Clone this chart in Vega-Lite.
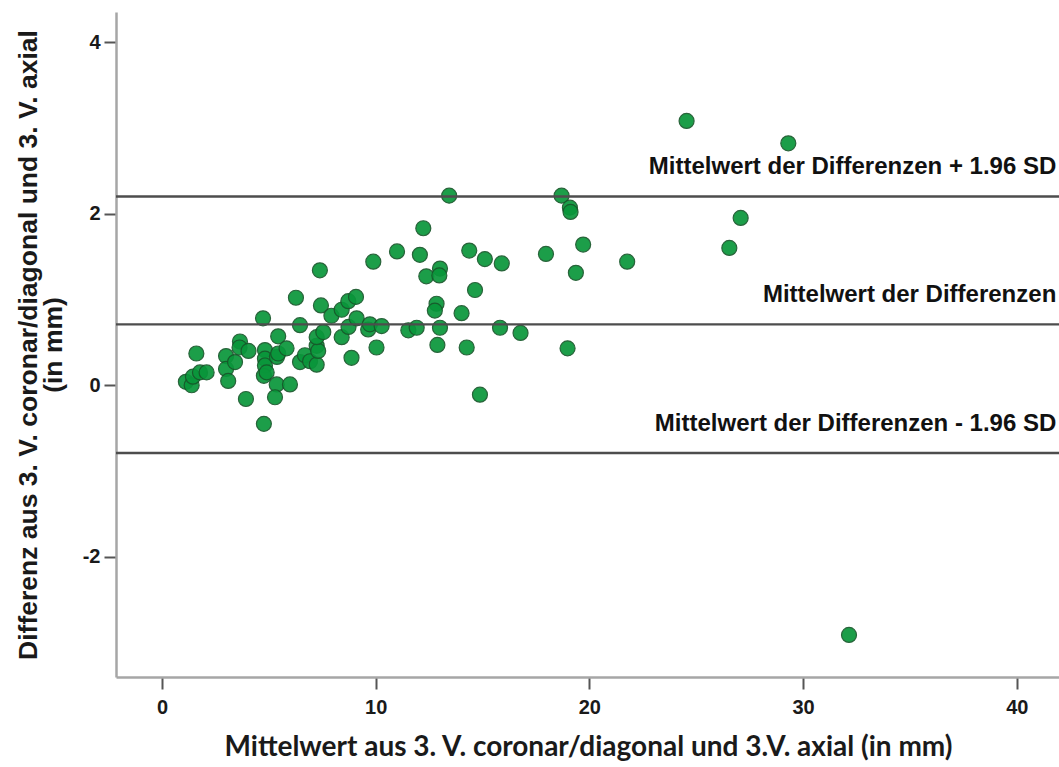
{
  "$schema": "https://vega.github.io/schema/vega-lite/v6.json",
  "autosize": "none",
  "width": 945,
  "height": 665,
  "padding": {"left": 116, "top": 12, "right": 0, "bottom": 90},
  "background": "white",
  "config": {
    "view": {"stroke": null},
    "axis": {
      "grid": false,
      "domainColor": "#a6a6a6",
      "domainWidth": 2.5,
      "tickColor": "#555555",
      "tickWidth": 2,
      "tickSize": 12,
      "labelFont": "Liberation Sans",
      "labelFontWeight": "bold",
      "labelFontSize": 20,
      "labelColor": "#1a1a1a",
      "titleFont": "Liberation Sans",
      "titleFontWeight": "bold",
      "titleColor": "#1a1a1a"
    }
  },
  "datasets": {
    "points": [
      {"mean": 1.12, "diff": 0.04}, {"mean": 1.39, "diff": 0.0}, {"mean": 1.45, "diff": 0.10},
      {"mean": 1.78, "diff": 0.15}, {"mean": 2.09, "diff": 0.15}, {"mean": 1.61, "diff": 0.37},
      {"mean": 3.0, "diff": 0.34}, {"mean": 3.0, "diff": 0.19}, {"mean": 3.42, "diff": 0.27},
      {"mean": 3.1, "diff": 0.05}, {"mean": 3.65, "diff": 0.51}, {"mean": 3.63, "diff": 0.44},
      {"mean": 4.05, "diff": 0.40}, {"mean": 3.93, "diff": -0.16}, {"mean": 4.73, "diff": 0.78},
      {"mean": 4.82, "diff": 0.41}, {"mean": 4.82, "diff": 0.31}, {"mean": 4.82, "diff": 0.23},
      {"mean": 4.77, "diff": 0.11}, {"mean": 4.9, "diff": 0.15}, {"mean": 4.77, "diff": -0.45},
      {"mean": 5.44, "diff": 0.57}, {"mean": 5.38, "diff": 0.33}, {"mean": 5.44, "diff": 0.37},
      {"mean": 5.83, "diff": 0.43}, {"mean": 5.37, "diff": 0.01}, {"mean": 5.29, "diff": -0.14},
      {"mean": 5.99, "diff": 0.01}, {"mean": 6.27, "diff": 1.02}, {"mean": 6.46, "diff": 0.70},
      {"mean": 6.46, "diff": 0.27}, {"mean": 6.69, "diff": 0.35}, {"mean": 6.93, "diff": 0.28},
      {"mean": 7.24, "diff": 0.24}, {"mean": 7.24, "diff": 0.46}, {"mean": 7.31, "diff": 0.40},
      {"mean": 7.24, "diff": 0.56}, {"mean": 7.55, "diff": 0.62}, {"mean": 7.44, "diff": 0.93},
      {"mean": 7.39, "diff": 1.34}, {"mean": 7.93, "diff": 0.81}, {"mean": 8.41, "diff": 0.88},
      {"mean": 8.41, "diff": 0.56}, {"mean": 8.72, "diff": 0.98}, {"mean": 8.73, "diff": 0.68},
      {"mean": 8.87, "diff": 0.32}, {"mean": 9.08, "diff": 1.03}, {"mean": 9.11, "diff": 0.78},
      {"mean": 9.65, "diff": 0.65}, {"mean": 9.73, "diff": 0.71}, {"mean": 9.89, "diff": 1.44},
      {"mean": 10.04, "diff": 0.44}, {"mean": 10.28, "diff": 0.69}, {"mean": 11.0, "diff": 1.56},
      {"mean": 11.53, "diff": 0.64}, {"mean": 11.92, "diff": 0.67}, {"mean": 12.07, "diff": 1.52},
      {"mean": 12.23, "diff": 1.83}, {"mean": 12.37, "diff": 1.27}, {"mean": 12.85, "diff": 0.95},
      {"mean": 12.77, "diff": 0.87}, {"mean": 12.89, "diff": 0.47}, {"mean": 13.01, "diff": 1.36},
      {"mean": 12.98, "diff": 1.28}, {"mean": 13.01, "diff": 0.67}, {"mean": 13.44, "diff": 2.21},
      {"mean": 14.02, "diff": 0.84}, {"mean": 14.26, "diff": 0.44}, {"mean": 14.38, "diff": 1.57},
      {"mean": 14.65, "diff": 1.11}, {"mean": 14.88, "diff": -0.11}, {"mean": 15.11, "diff": 1.47},
      {"mean": 15.82, "diff": 0.67}, {"mean": 15.9, "diff": 1.42}, {"mean": 16.78, "diff": 0.61},
      {"mean": 17.97, "diff": 1.53}, {"mean": 18.7, "diff": 2.21}, {"mean": 19.09, "diff": 2.07},
      {"mean": 19.12, "diff": 2.02}, {"mean": 18.98, "diff": 0.43}, {"mean": 19.37, "diff": 1.31},
      {"mean": 19.71, "diff": 1.64}, {"mean": 21.77, "diff": 1.44}, {"mean": 24.55, "diff": 3.08},
      {"mean": 26.55, "diff": 1.6}, {"mean": 27.08, "diff": 1.95}, {"mean": 29.31, "diff": 2.82},
      {"mean": 32.15, "diff": -2.91}
    ],
    "limits": [
      {"label": "Mittelwert der Differenzen + 1.96 SD", "value": 2.2},
      {"label": "Mittelwert der Differenzen", "value": 0.71},
      {"label": "Mittelwert der Differenzen - 1.96 SD", "value": -0.79}
    ]
  },
  "encoding": {
    "x": {
      "type": "quantitative",
      "scale": {"domain": [-2.15, 42.07], "nice": false, "zero": false},
      "axis": {
        "values": [0, 10, 20, 30, 40],
        "labelPadding": 8,
        "title": "Mittelwert aus 3. V. coronar/diagonal und 3.V. axial (in mm)",
        "titleFont": "Lato",
        "titleFontSize": 28,
        "titlePadding": 16,
        "titleX": 472
      }
    },
    "y": {
      "type": "quantitative",
      "scale": {"domain": [-3.4, 4.35], "nice": false, "zero": false},
      "axis": {
        "values": [-2, 0, 2, 4],
        "labelExpr": "replace(datum.label, '\u2212', '-')",
        "labelPadding": 4,
        "title": ["Differenz aus 3. V. coronar/diagonal und 3. V. axial", "(in mm)"],
        "titleFontSize": 26.5,
        "titleLineHeight": 25,
        "titlePadding": 15
      }
    }
  },
  "layer": [
    {
      "data": {"name": "points"},
      "mark": {"type": "point", "shape": "circle", "filled": true, "size": 225, "fill": "#09963a", "stroke": "#17572a", "strokeWidth": 1.2, "opacity": 0.92},
      "encoding": {
        "x": {"field": "mean"},
        "y": {"field": "diff"}
      }
    },
    {
      "data": {"name": "limits"},
      "mark": {"type": "rule", "color": "#4d4d4d", "strokeWidth": 2.4},
      "encoding": {
        "y": {"field": "value"},
        "x": null
      }
    },
    {
      "data": {"name": "limits"},
      "mark": {"type": "text", "align": "right", "baseline": "middle", "dy": -29, "font": "Liberation Sans", "fontWeight": "bold", "fontSize": 24, "color": "#111111"},
      "encoding": {
        "x": {"datum": 41.85},
        "y": {"field": "value"},
        "text": {"field": "label"}
      }
    }
  ]
}
